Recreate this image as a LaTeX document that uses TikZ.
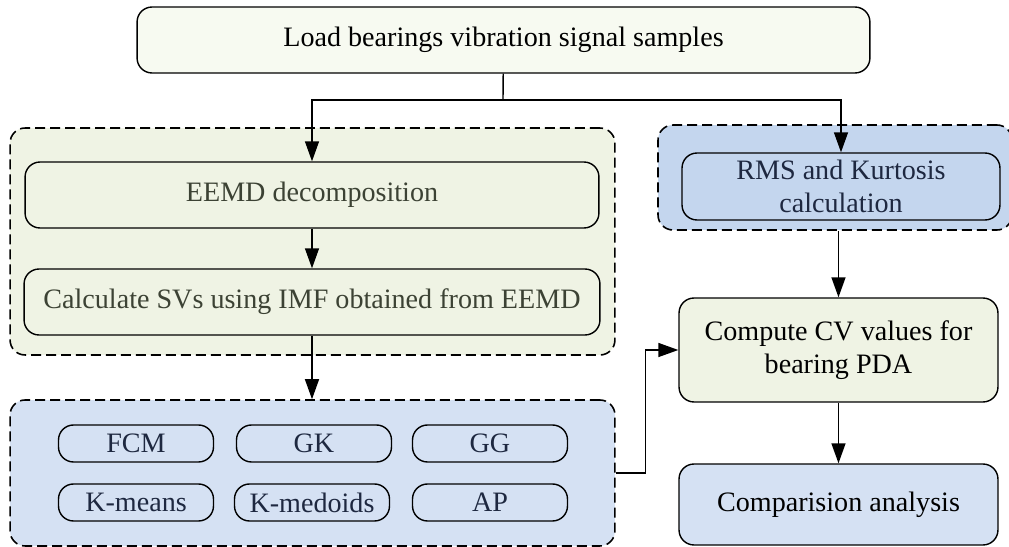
\documentclass[tikz,border=0pt]{standalone}
\usepackage{fontspec}
\setmainfont{Liberation Serif}
\usetikzlibrary{arrows.meta}
\definecolor{topgreen}{HTML}{F7FAF1}
\definecolor{boxgreen}{HTML}{EFF3E4}
\definecolor{boxblue}{HTML}{D5E1F3}
\definecolor{rmsblue}{HTML}{C4D6EE}
\definecolor{greentext}{HTML}{3C4234}
\definecolor{bluetext}{HTML}{1E2840}
\begin{document}
\begin{tikzpicture}[x=0.02cm,y=-0.02cm,
	font=\fontsize{16}{19}\selectfont,
	box/.style={draw,rounded corners=0.3cm,line width=0.8pt,align=center,inner sep=0pt},
	group/.style={draw,dash pattern=on 0.2cm off 0.1cm,rounded corners=0.3cm,line width=0.9pt},
	algo/.style={box,minimum width=3.1cm,minimum height=0.74cm,text=bluetext},
	arr/.style={-{Triangle[length=0.4cm,width=0.28cm]},line width=0.8pt}]
	\useasboundingbox (0,0) rectangle (1009,547);
	% groups
	\node[group,fill=boxgreen,minimum width=12.1cm,minimum height=4.54cm] (SVg) at (312.5,241.5) {};
	\node[group,fill=boxblue,minimum width=12.1cm,minimum height=2.92cm] (CLg) at (312.5,473) {};
	\node[group,fill=rmsblue,minimum width=7.08cm,minimum height=2.1cm] (RMSg) at (835,177.5) {};
	% boxes
	\node[box,fill=topgreen,minimum width=14.66cm,minimum height=1.32cm] (LD) at (503.5,40) {Load bearings vibration signal samples};
	\node[box,fill=boxgreen,text=greentext,minimum width=11.48cm,minimum height=1.32cm] (EEMD) at (312,195) {EEMD decomposition};
	\node[box,fill=boxgreen,text=greentext,minimum width=11.52cm,minimum height=1.32cm] (SV) at (312,302) {Calculate SVs using IMF obtained from EEMD};
	\node[box,fill=rmsblue,text=bluetext,minimum width=6.36cm,minimum height=1.34cm] (RMS) at (841,186.5) {RMS and Kurtosis\\calculation};
	\node[box,fill=boxgreen,minimum width=6.38cm,minimum height=2.08cm] (CV) at (838.5,350) {Compute CV values for\\bearing PDA};
	\node[box,fill=boxblue,minimum width=6.38cm,minimum height=1.62cm] (CA) at (838.5,504.5) {Comparision analysis};
	% clustering methods
	\node[algo] (FCM) at (136,443.5) {FCM};
	\node[algo] (GK) at (314,443.5) {GK};
	\node[algo] (GG) at (490,443.5) {GG};
	\node[algo] (KM) at (136,502.5) {K-means};
	\node[algo] (KMD) at (312,502.5) {K-medoids};
	\node[algo] (AP) at (490,502.5) {AP};
	% connectors
	\coordinate (split) at (503,100);
	\draw[line width=0.8pt] (LD)--(split);
	\draw[arr] (split)-|(EEMD);
	\draw[arr] (split)-|(RMS);
	\draw[arr] (EEMD)--(SV);
	\draw[arr] (SV.south)--(SV.south |- CLg.north);
	\draw[arr] (CV.north |- RMSg.south)--(CV.north);
	\draw[arr] (CV)--(CA);
	\draw[arr] (CLg.east)--++(30,0)|-(CV.west);
\end{tikzpicture}
\end{document}
